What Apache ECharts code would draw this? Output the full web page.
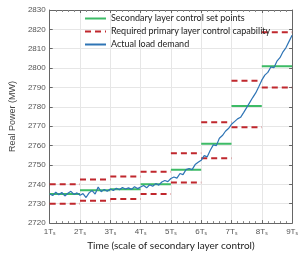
<!DOCTYPE html>
<html>
<head>
<meta charset="utf-8">
<script src="https://cdn.jsdelivr.net/npm/echarts@6/dist/echarts.min.js"></script>
<style>
  html, body { margin: 0; padding: 0; background: #fff; }
  #chart { width: 301px; height: 256px; }
</style>
</head>
<body>
<div id="chart"></div>
<script>
// Valores
const timeTicks  = [1, 2, 3, 4, 5, 6, 7, 8, 9]
const setPoints  = [2735, 2737, 2737.5, 2740, 2747.5, 2761, 2780.5, 2801]
const primaryUp  = [2740, 2742.5, 2744, 2746.5, 2756, 2772, 2793.5, 2818.5]
const primaryLow = [2730, 2731.5, 2732.5, 2735, 2741, 2753.5, 2769.5, 2790]

// Demanda real, muestreada cada 0.1 Ts desde 1 Ts
const loadStart = 1
const loadStep  = 0.1
const loadDemand = [
  2735.0, 2734.2, 2736.0, 2734.6, 2735.8, 2734.0, 2735.4, 2736.4, 2734.8, 2735.6,
  2734.4, 2735.2, 2733.2, 2735.6, 2736.8, 2735.0, 2738.6, 2736.2, 2737.4, 2736.4,
  2737.6, 2736.8, 2738.0, 2737.2, 2738.4, 2737.6, 2738.2, 2737.4, 2738.8, 2737.8,
  2738.6, 2739.4, 2738.2, 2739.8, 2739.0, 2740.4, 2739.6, 2741.2, 2742.0, 2741.4,
  2743.0, 2743.8, 2743.2, 2745.6, 2745.0, 2747.6, 2748.2, 2747.6, 2750.2, 2751.4,
  2752.4, 2754.8, 2754.2, 2757.6, 2760.4, 2760.0, 2763.8, 2765.2, 2767.4, 2768.8,
  2771.0, 2772.4, 2773.8, 2774.6, 2777.0, 2779.6, 2782.2, 2784.8, 2787.2, 2790.4,
  2793.8, 2796.4, 2797.8, 2800.6, 2800.2, 2803.6, 2805.4, 2808.4, 2810.6, 2813.8,
  2817.0
]

const NAME_SET  = 'Secondary layer control set points'
const NAME_REQ  = 'Required primary layer control capability'
const NAME_LOAD = 'Actual load demand'

const GREEN = '#3dbb66'
const RED   = '#c0272d'
const BLUE  = '#2e74b5'

// Un segmento horizontal por intervalo de control
function segments(values) {
  const out = []
  values.forEach((v, i) => {
    out.push([timeTicks[i], v], [timeTicks[i + 1], v], [timeTicks[i + 1], '-'])
  })
  return out
}

const series = [
  {
    name: NAME_SET, type: 'line', symbol: 'none', connectNulls: false,
    data: segments(setPoints),
    lineStyle: { color: GREEN, width: 2 }, itemStyle: { color: GREEN },
    z: 3,
  },
  {
    name: NAME_REQ, type: 'line', symbol: 'none', connectNulls: false,
    data: segments(primaryUp),
    lineStyle: { color: RED, width: 2, type: [6, 4] }, itemStyle: { color: RED },
    z: 2,
  },
  {
    name: NAME_REQ, type: 'line', symbol: 'none', connectNulls: false,
    data: segments(primaryLow),
    lineStyle: { color: RED, width: 2, type: [6, 4] }, itemStyle: { color: RED },
    z: 2,
  },
  {
    name: NAME_LOAD, type: 'line', symbol: 'none',
    data: loadDemand.map((v, i) => [loadStart + i * loadStep, v]),
    lineStyle: { color: BLUE, width: 1.2 }, itemStyle: { color: BLUE },
    z: 4,
  },
]

const chart = echarts.init(document.getElementById('chart'))
chart.setOption({
  animation: false,
  textStyle: { fontFamily: 'Liberation Sans' },
  grid: { left: 49, right: 8, top: 10, bottom: 31 },
  legend: {
    data: [NAME_SET, NAME_REQ, NAME_LOAD],
    orient: 'vertical', left: 79, top: 9,
    itemWidth: 21, itemHeight: 4, itemGap: 4,
    itemStyle: { opacity: 0 },
    textStyle: { fontFamily: 'Lato', fontSize: 9, color: '#222' },
  },
  xAxis: [
    {
      type: 'value', min: 1, max: 9, interval: 1,
      name: 'Time (scale of secondary layer control)',
      nameLocation: 'middle', nameGap: 16,
      nameTextStyle: { fontFamily: 'Lato', fontSize: 10, color: '#222' },
      axisLine: { lineStyle: { color: '#666', width: 1 } },
      axisTick: { inside: true, length: 3, lineStyle: { color: '#666' } },
      minorTick: { show: true, splitNumber: 5, length: 2, lineStyle: { color: '#888' } },
      splitLine: { show: true, lineStyle: { color: '#e6e6e6', width: 1 } },
      axisLabel: {
        fontSize: 8, color: '#555', margin: 4,
        formatter: v => `${v}T{s|s}`,
        rich: { s: { fontSize: 5, color: '#555', verticalAlign: 'bottom', padding: [4, 0, 0, 0] } },
      },
    },
    {
      type: 'value', min: 1, max: 9, interval: 1, position: 'top',
      axisLine: { show: true, lineStyle: { color: '#666', width: 1 } },
      axisTick: { inside: true, length: 3, lineStyle: { color: '#666' } },
      minorTick: { show: true, splitNumber: 5, length: 2, lineStyle: { color: '#888' } },
      axisLabel: { show: false }, splitLine: { show: false },
    },
  ],
  yAxis: [
    {
      type: 'value', min: 2720, max: 2830, interval: 10,
      name: 'Real Power (MW)',
      nameLocation: 'middle', nameGap: 28,
      nameTextStyle: { fontSize: 9, color: '#444' },
      axisLine: { show: true, lineStyle: { color: '#666', width: 1 } },
      axisTick: { show: true, inside: true, length: 3, lineStyle: { color: '#666' } },
      splitLine: { show: true, lineStyle: { color: '#e6e6e6', width: 1 } },
      axisLabel: { fontSize: 8, color: '#555', margin: 4, formatter: v => String(v) },
    },
    {
      type: 'value', min: 2720, max: 2830, interval: 10, position: 'right',
      axisLine: { show: true, lineStyle: { color: '#666', width: 1 } },
      axisTick: { show: true, inside: true, length: 3, lineStyle: { color: '#666' } },
      axisLabel: { show: false }, splitLine: { show: false },
    },
  ],
  series,
})
</script>
</body>
</html>
